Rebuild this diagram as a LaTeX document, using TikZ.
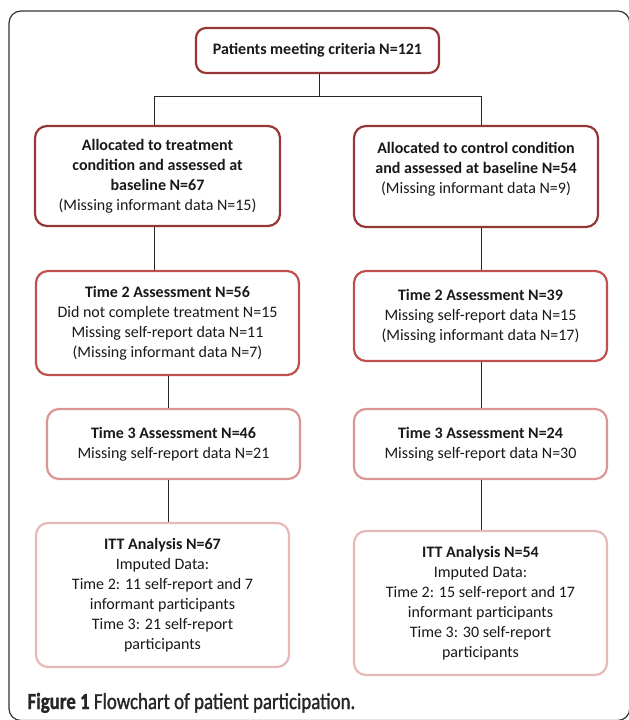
\documentclass[tikz,border=0pt]{standalone}
\usepackage{fontspec}
\setmainfont{Carlito}
\newfontfamily\capfont[FakeStretch=0.82,FakeBold=1.2]{Carlito}
\usepackage{tikz}
\usetikzlibrary{arrows,shapes}

\begin{document}
\begin{tikzpicture}[line join=bevel,
  box/.style={draw, rounded corners=12bp, line width=2.2bp, fill=white, align=center,
    inner sep=0pt, text=black!90, font=\fontsize{16bp}{20bp}\selectfont},
  link/.style={draw=black!85, line width=1bp},
]
\pgfsetlinewidth{1bp}
\definecolor{darkrose}{rgb}{0.584,0.216,0.208}
\definecolor{midrose}{rgb}{0.753,0.314,0.302}
\definecolor{lightrose}{rgb}{0.851,0.588,0.580}
\definecolor{palerose}{rgb}{0.902,0.725,0.722}
\useasboundingbox (0bp,0bp) rectangle (629bp,720bp);

% Frame
\draw [line width=1.2bp, draw=black!80, rounded corners=12bp] (9bp,-0.5bp) rectangle (629.8bp,709bp);

% Node: crit
\node [box, draw=darkrose, rounded corners=10bp, minimum width=243bp, minimum height=45bp] (crit) at (317.5bp,669.5bp)
  {\textbf{Patients meeting criteria N=121}};

% Node: allocT
\node [box, draw=darkrose, minimum width=245bp, minimum height=100bp] (allocT) at (157.5bp,544bp)
  {\textbf{Allocated to treatment}\\ \textbf{condition and assessed at}\\ \textbf{baseline N=67}\\ (Missing informant data N=15)};

% Node: allocC
\node [box, draw=darkrose, minimum width=244bp, minimum height=101bp, text depth=18bp] (allocC) at (476bp,543.5bp)
  {\textbf{Allocated to control condition}\\ \textbf{and assessed at baseline N=54}\\ (Missing informant data N=9)};

% Node: timeTwoT
\node [box, draw=midrose, minimum width=263bp, minimum height=104bp] (timeTwoT) at (167.5bp,397bp)
  {\textbf{Time 2 Assessment N=56}\\ Did not complete treatment N=15\\ Missing self-report data N=11\\ (Missing informant data N=7)};

% Node: timeTwoC
\node [box, draw=midrose, minimum width=253bp, minimum height=90bp] (timeTwoC) at (480.5bp,404bp)
  {\textbf{Time 2 Assessment N=39}\\ Missing self-report data N=15\\ (Missing informant data N=17)};

% Node: timeThreeT
\node [box, draw=lightrose, minimum width=253bp, minimum height=70bp] (timeThreeT) at (173.5bp,276bp)
  {\textbf{Time 3 Assessment N=46}\\ Missing self-report data N=21};

% Node: timeThreeC
\node [box, draw=lightrose, minimum width=253bp, minimum height=70bp] (timeThreeC) at (480.5bp,276bp)
  {\textbf{Time 3 Assessment N=24}\\ Missing self-report data N=30};

% Node: ittT
\node [box, draw=palerose, minimum width=253bp, minimum height=144bp] (ittT) at (162.5bp,125bp)
  {\textbf{ITT Analysis N=67}\\ Imputed Data:\\ Time 2: 11 self-report and 7\\ informant participants\\ Time 3: 21 self-report\\ participants};

% Node: ittC
\node [box, draw=palerose, minimum width=253bp, minimum height=144bp] (ittC) at (480.5bp,117bp)
  {\textbf{ITT Analysis N=54}\\ Imputed Data:\\ Time 2: 15 self-report and 17\\ informant participants\\ Time 3: 30 self-report\\ participants};

% Edge: crit -> allocT, allocC
\coordinate (split) at (319bp,623bp);
\coordinate (lineA) at (154bp,623bp);
\coordinate (lineB) at (168bp,0bp);
\coordinate (lineR) at (481bp,623bp);
\draw [link] (crit.south -| split) -- (split);
\draw [link] (lineA |- allocT.north) -- (lineA) -- (lineR) -- (lineR |- allocC.north);

% Edge: allocT -> timeTwoT -> timeThreeT -> ittT
\draw [link] (lineA |- allocT.south) -- (lineA |- timeTwoT.north);
\draw [link] (lineB |- timeTwoT.south) -- (lineB |- timeThreeT.north);
\draw [link] (lineB |- timeThreeT.south) -- (lineB |- ittT.north);

% Edge: allocC -> timeTwoC -> timeThreeC -> ittC
\draw [link] (lineR |- allocC.south) -- (lineR |- timeTwoC.north);
\draw [link] (lineR |- timeTwoC.south) -- (lineR |- timeThreeC.north);
\draw [link] (lineR |- timeThreeC.south) -- (lineR |- ittC.north);

% Caption
\node [anchor=base west, inner sep=0pt, text=black!85, font=\capfont\fontsize{23bp}{26bp}\selectfont] (caption) at (27bp,11bp)
  {\textbf{Figure 1} Flowchart of patient participation.};
%
\end{tikzpicture}
\end{document}
